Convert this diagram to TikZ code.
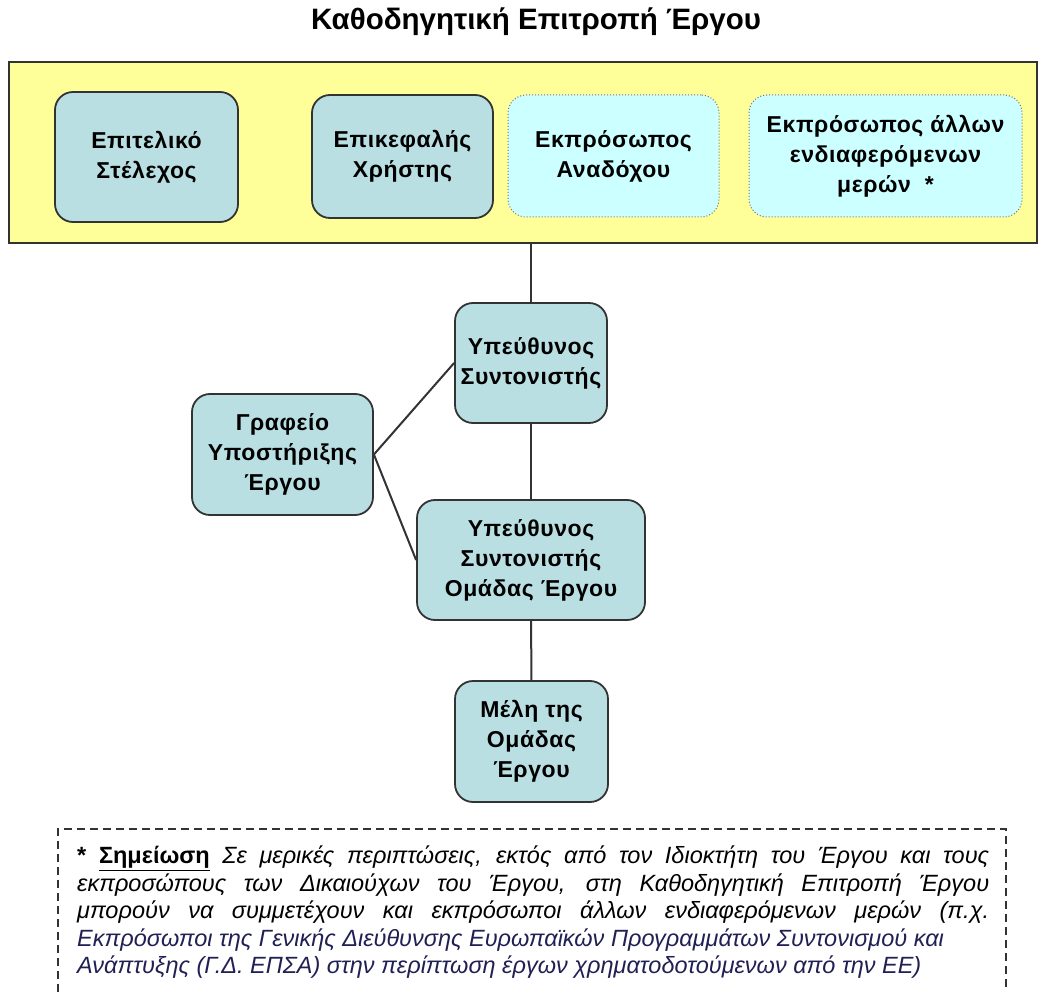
\documentclass[tikz,border=0pt]{standalone}
\usepackage{fontspec}
\setmainfont{Liberation Sans}
\newfontfamily\boxfont[LetterSpace=2.5]{Liberation Sans}
\usetikzlibrary{positioning}
\definecolor{bandyellow}{RGB}{255,255,153}
\definecolor{roleteal}{RGB}{185,223,227}
\definecolor{guestcyan}{RGB}{204,255,255}
\definecolor{edgegray}{RGB}{51,51,51}
\definecolor{notenavy}{RGB}{32,32,84}
\tikzset{
  band/.style={
    draw=edgegray,
    line width=2pt,
    fill=bandyellow
  },
  role/.style={
    draw=edgegray,
    line width=1.8pt,
    fill=roleteal,
    rounded corners=18pt,
    align=center,
    inner sep=0pt,
    font=\boxfont\bfseries\fontsize{23}{30}\selectfont
  },
  guest/.style={
    role,
    draw=black!55,
    line width=1pt,
    dotted,
    fill=guestcyan
  },
  link/.style={draw=edgegray, line width=2pt},
  notebox/.style={draw=edgegray, line width=1.6pt, dash pattern=on 8pt off 5pt}
}

\begin{document}
\begin{tikzpicture}[x=1pt, y=-1pt]
  \useasboundingbox (0,0) rectangle (1039,992);
  % title and steering committee band
  \node[font=\bfseries\fontsize{29.5}{34}\selectfont] (title) at (536,22) {Καθοδηγητική Επιτροπή Έργου};
  \node[band, minimum width=1028pt, minimum height=181pt] (board) at (523,152.5) {};
  \node[role, minimum width=183pt, minimum height=130pt] (exec) at (146.5,157) {Επιτελικό\\Στέλεχος};
  \node[role, minimum width=181pt, minimum height=123pt] (user) at (402.5,156.5) {Επικεφαλής\\Χρήστης};
  \node[guest, minimum width=211pt, minimum height=122pt] (contr) at (613.5,156) {Εκπρόσωπος\\Αναδόχου};
  \node[guest, minimum width=273pt, minimum height=122pt] (other) at (885.5,156) {Εκπρόσωπος άλλων\\ενδιαφερόμενων\\μερών\ \ *};
  % project organisation
  \node[role, minimum width=152pt, minimum height=120pt] (coord) at (531,363) {Υπεύθυνος\\Συντονιστής};
  \node[role, minimum width=181pt, minimum height=121pt] (office) at (282.5,454.5) {Γραφείο\\Υποστήριξης\\Έργου};
  \node[role, minimum width=228pt, minimum height=120pt] (teamlead) at (531,560) {Υπεύθυνος\\Συντονιστής\\Ομάδας Έργου};
  \node[role, minimum width=153pt, minimum height=121pt] (members) at (531.5,741.5) {Μέλη της\\Ομάδας\\Έργου};
  \draw[link] (coord.north) -- (coord.north |- board.south);
  \draw[link] (coord) -- (teamlead);
  \draw[link] (teamlead) -- (members);
  \draw[link] (office.east) -- (coord.west);
  \draw[link] (office.east) -- (teamlead.west);
  % note
  \draw[notebox] (58,992) -- (58,829) -- (1006,829) -- (1006,992);
  \node[anchor=north west, align=left, inner sep=0pt, font=\itshape\fontsize{23.5}{27.5}\selectfont] (note) at (77,846) {%
    \makebox[912pt][s]{{\upshape\bfseries * \underline{Σημείωση}} Σε μερικές περιπτώσεις, εκτός από τον Ιδιοκτήτη του Έργου και τους}\\
    \makebox[912pt][s]{εκπροσώπους των Δικαιούχων του Έργου, στη Καθοδηγητική Επιτροπή Έργου}\\
    \makebox[912pt][s]{μπορούν να συμμετέχουν και εκπρόσωποι άλλων ενδιαφερόμενων μερών (π.χ.}\\
    \color{notenavy}Εκπρόσωποι της Γενικής Διεύθυνσης Ευρωπαϊκών Προγραμμάτων Συντονισμού και\\
    \color{notenavy}Ανάπτυξης (Γ.Δ. ΕΠΣΑ) στην περίπτωση έργων χρηματοδοτούμενων από την ΕΕ)};
\end{tikzpicture}
\end{document}
